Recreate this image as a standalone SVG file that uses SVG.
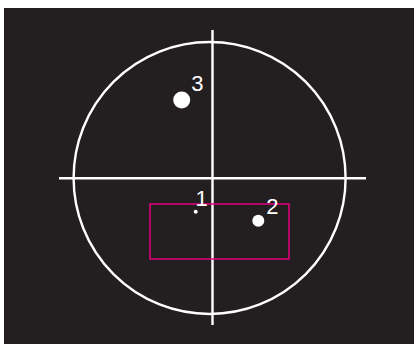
<svg xmlns="http://www.w3.org/2000/svg" width="414" height="344" viewBox="0 0 414 344">
<style>
.ln{stroke:#fff;stroke-width:2.4;fill:none}
.lbl{fill:#fff;font-family:"Liberation Sans","DejaVu Sans",sans-serif;font-size:22px;text-anchor:middle}
.dot{fill:#fff}
</style>
<rect x="0" y="0" width="414" height="344" fill="#fff"/>
<rect x="4" y="8" width="410" height="336" fill="#231f20"/>
<g id="axes">
<circle class="ln" cx="209.6" cy="178" r="136"/>
<line class="ln" x1="212.5" y1="30" x2="212.5" y2="325"/>
<line class="ln" x1="59" y1="178.3" x2="366" y2="178.3"/>
</g>
<g id="region">
<rect x="150" y="204" width="139" height="55" fill="none" stroke="#e6007e" stroke-width="1.5"/>
</g>
<g id="p1">
<circle class="dot" cx="195.7" cy="211.7" r="2"/>
<text class="lbl" x="201.7" y="206">1</text>
</g>
<g id="p2">
<circle class="dot" cx="258.3" cy="220.7" r="6"/>
<text class="lbl" x="272.3" y="213.5">2</text>
</g>
<g id="p3">
<circle class="dot" cx="181.7" cy="100" r="8.5"/>
<text class="lbl" x="197.3" y="91">3</text>
</g>
</svg>
